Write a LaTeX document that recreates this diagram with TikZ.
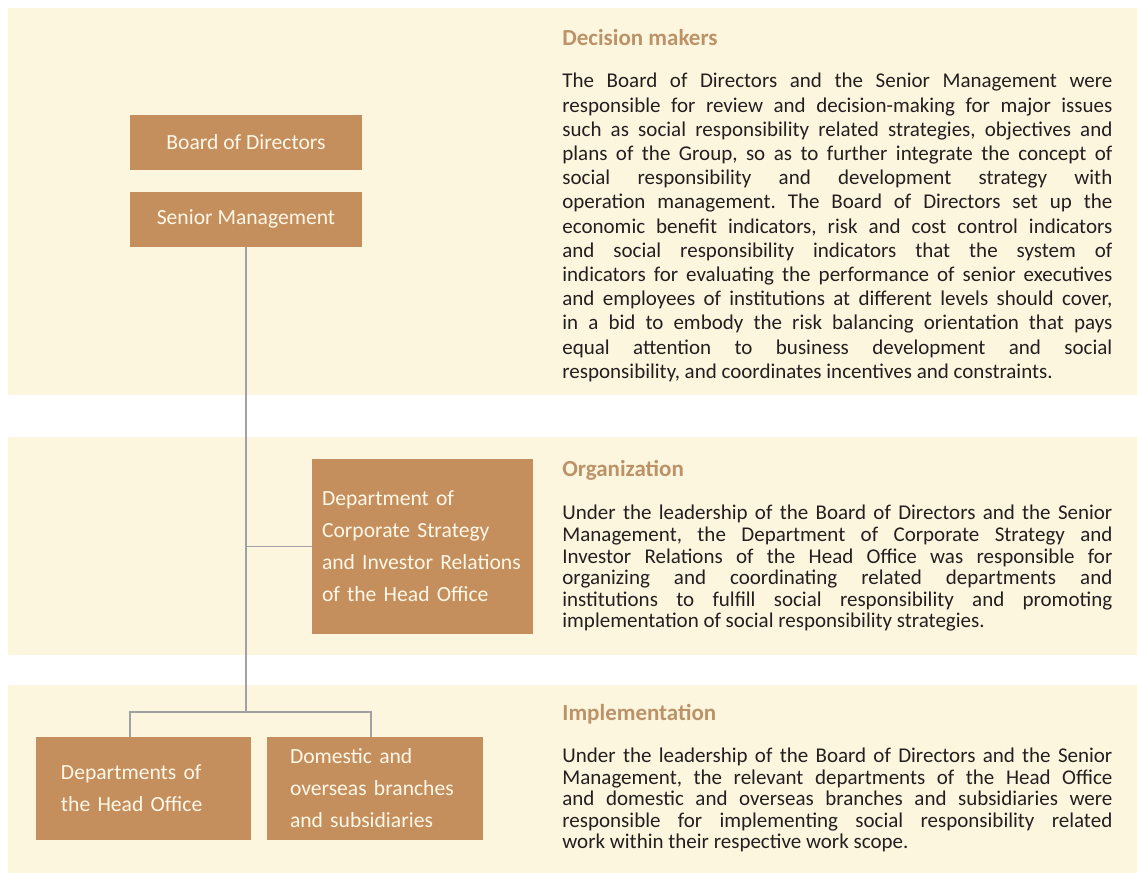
\documentclass[tikz,border=0pt]{standalone}
\usepackage{fontspec}
\setmainfont{Carlito}
\usepackage{xcolor}
\usepackage{tikz}
\usetikzlibrary{positioning}

\definecolor{bandfill}{RGB}{253,246,222}
\definecolor{boxfill}{RGB}{197,143,93}
\definecolor{boxtext}{RGB}{255,248,232}
\definecolor{headtan}{RGB}{188,146,104}
\definecolor{linegray}{RGB}{160,160,165}
\definecolor{bodytext}{RGB}{35,31,32}

\begin{document}
\begin{tikzpicture}[
    x=0.5pt, y=-0.5pt,
    band/.style={fill=bandfill},
    unit/.style={fill=boxfill, text=boxtext, font=\fontsize{10.8}{16}\selectfont, inner sep=0pt},
    single/.style={unit, minimum width=116pt, minimum height=27.5pt},
    multi/.style={unit, align=left},
    heading/.style={font=\fontsize{11.5}{13}\bfseries\selectfont, text=headtan, anchor=base west, inner sep=0pt},
    body/.style={text=bodytext, text width=275pt, align=justify, anchor=north west, inner sep=0pt,
        execute at begin node={\frenchspacing\tolerance=9999\hyphenpenalty=10000\emergencystretch=30pt}},
    link/.style={draw=linegray, line width=0.8pt},
]
\fill[white] (0,0) rectangle (1137,873);
\useasboundingbox (0,0) rectangle (1137,873);

% Bands
\fill[band] (8,8) rectangle (1137,395);
\fill[band] (8,437) rectangle (1137,655);
\fill[band] (8,685) rectangle (1137,873);

% Decision makers
\node[single] (bod) at (246,142.5) {Board of Directors};
\node[single] (sm) at (246,219) {Senior Management};

% Organization
\node[multi, text width=100.5pt, inner xsep=5pt, minimum height=87.5pt] (dept) at (422.5,546.5)
    {Department of\\Corporate Strategy\\and Investor Relations\\of the Head Office};

% Implementation
\node[multi, text width=82.5pt, inner xsep=12.5pt, minimum height=51.5pt] (hodept) at (143.5,788.5)
    {Departments of\\the Head Office};
\node[multi, text width=85pt, inner xsep=11.5pt, minimum height=51.5pt] (branch) at (375,788.5)
    {Domestic and\\overseas branches\\and subsidiaries};

% Lines
\coordinate (fork) at (246,712);
\draw[link] (sm.south) -- (fork);
\draw[link] (sm.south |- dept.west) -- (dept.west);
\draw[link] ([xshift=-6.75pt]hodept.north) |- (fork) -| ([xshift=-2pt]branch.north);

% Headings
\node[heading] (h1) at (562,45) {Decision makers};
\node[heading] (h2) at (562,476) {Organization};
\node[heading] (h3) at (562,720) {Implementation};

% Texts
\node[body, font=\fontsize{10.5}{12.1}\selectfont] (t1) at (562,73) {%
The Board of Directors and the Senior Management were\linebreak
responsible for review and decision-making for major issues\linebreak
such as social responsibility related strategies, objectives and\linebreak
plans of the Group, so as to further integrate the concept of\linebreak
social responsibility and development strategy with\linebreak
operation management. The Board of Directors set up the\linebreak
economic benefit indicators, risk and cost control indicators\linebreak
and social responsibility indicators that the system of\linebreak
indicators for evaluating the performance of senior executives\linebreak
and employees of institutions at different levels should cover,\linebreak
in a bid to embody the risk balancing orientation that pays\linebreak
equal attention to business development and social\linebreak
responsibility, and coordinates incentives and constraints.};

\node[body, font=\fontsize{10.5}{10.8}\selectfont] (t2) at (562,505) {%
Under the leadership of the Board of Directors and the Senior\linebreak
Management, the Department of Corporate Strategy and\linebreak
Investor Relations of the Head Office was responsible for\linebreak
organizing and coordinating related departments and\linebreak
institutions to fulfill social responsibility and promoting\linebreak
implementation of social responsibility strategies.};

\node[body, font=\fontsize{10.5}{10.75}\selectfont] (t3) at (562,748) {%
Under the leadership of the Board of Directors and the Senior\linebreak
Management, the relevant departments of the Head Office\linebreak
and domestic and overseas branches and subsidiaries were\linebreak
responsible for implementing social responsibility related\linebreak
work within their respective work scope.};
\end{tikzpicture}
\end{document}
